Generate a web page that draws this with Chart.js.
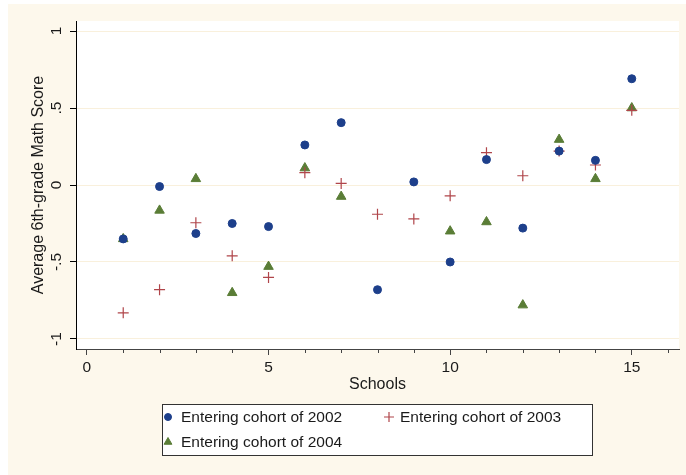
<!DOCTYPE html>
<html>
<head>
<meta charset="utf-8">
<script src="https://cdn.jsdelivr.net/npm/chart.js@4"></script>
<style>
html,body{margin:0;padding:0;background:#fff;}
#wrap{width:686px;height:475px;position:relative;}
</style>
</head>
<body>
<div id="wrap"><canvas id="c" width="686" height="475"></canvas></div>
<script>
// ---- data ----
const schools = [1,2,3,4,5,6,7,8,9,10,11,12,13,14,15];
const cohort2002 = [-0.35,-0.01,-0.315,-0.25,-0.27,0.26,0.405,-0.68,0.02,-0.50,0.165,-0.28,0.22,0.16,0.69];
const cohort2003 = [-0.83,-0.68,-0.245,-0.46,-0.60,0.08,0.01,-0.19,-0.22,-0.07,0.21,0.06,0.22,0.13,0.485];
const cohort2004 = [-0.35,-0.165,0.04,-0.70,-0.53,0.11,-0.075,null,null,-0.30,-0.24,-0.78,0.295,0.04,0.50];
const seriesNames = ["Entering cohort of 2002","Entering cohort of 2003","Entering cohort of 2004"];
const yTickValues = [-1,-0.5,0,0.5,1];
const yTickLabels = ["-1","-.5","0",".5","1"];
const xTickValues = [0,5,10,15];
const xTickLabels = ["0","5","10","15"];
const xMinorTicks = [1,2,3,4,6,7,8,9,11,12,13,14,16];

const FONT = "'Liberation Sans', Arial, sans-serif";
const CREAM = '#fdf8ec';

function pts(arr){ return schools.map((s,i)=>({x:s,y:arr[i]})).filter(p=>p.y!==null); }

const bgPlugin = {
  id:'bg',
  beforeDraw(chart){
    const {ctx, chartArea:a} = chart;
    ctx.save();
    ctx.fillStyle='#ffffff'; ctx.fillRect(0,0,chart.width,chart.height);
    ctx.fillStyle=CREAM; ctx.fillRect(8,4,chart.width-8,chart.height-4);
    ctx.fillStyle='#ffffff'; ctx.fillRect(a.left,a.top,a.right-a.left,a.bottom-a.top);
    ctx.restore();
  }
};

const minorPlugin = {
  id:'minor',
  afterDraw(chart){
    const xs = chart.scales.x, ctx = chart.ctx;
    ctx.save();
    ctx.strokeStyle='#444'; ctx.lineWidth=1;
    xMinorTicks.forEach(v=>{
      const px = Math.round(xs.getPixelForValue(v))+0.5;
      if (px > chart.chartArea.right) return;
      ctx.beginPath(); ctx.moveTo(px, xs.top); ctx.lineTo(px, xs.top+4); ctx.stroke();
    });
    ctx.restore();
  }
};

const legendPlugin = {
  id:'boxlegend',
  afterDraw(chart){
    const ctx = chart.ctx;
    const bx=162, by=404, bw=430, bh=51;
    ctx.save();
    ctx.fillStyle='#ffffff'; ctx.fillRect(bx,by,bw,bh);
    ctx.strokeStyle='#333'; ctx.lineWidth=1; ctx.strokeRect(bx+0.5,by+0.5,bw,bh);
    const pos = [[168,181,417],[389,400,417],[168,181,442]];
    chart.data.datasets.forEach((ds,i)=>{
      const [mx,tx,ty] = pos[i];
      const opts = {pointStyle:ds.pointStyle, radius:ds.legendRadius, rotation:0, borderWidth:ds.borderWidth};
      ctx.fillStyle=ds.backgroundColor; ctx.strokeStyle=ds.borderColor; ctx.lineWidth=ds.borderWidth;
      Chart.helpers.drawPoint(ctx, opts, mx, ty);
      ctx.fillStyle='#1a1a1a'; ctx.font='15.5px '+FONT; ctx.textBaseline='middle'; ctx.textAlign='left';
      ctx.fillText(seriesNames[i], tx, ty+1);
    });
    ctx.restore();
  }
};

new Chart(document.getElementById('c'), {
  type:'scatter',
  data:{datasets:[
    {label:seriesNames[0], data:pts(cohort2002), pointStyle:'circle', radius:4, legendRadius:3.5,
     backgroundColor:'#1d3f8b', borderColor:'#1d3f8b', borderWidth:1},
    {label:seriesNames[1], data:pts(cohort2003), pointStyle:'cross', radius:5.5, legendRadius:5,
     backgroundColor:'#b0454a', borderColor:'#b0454a', borderWidth:1.2},
    {label:seriesNames[2], data:pts(cohort2004), pointStyle:'triangle', radius:5.5, legendRadius:4.5,
     backgroundColor:'#5a7d36', borderColor:'#5a7d36', borderWidth:1}
  ]},
  options:{
    responsive:false, animation:false, events:[],
    layout:{padding:{left:0,top:21,right:7,bottom:0}, autoPadding:false},
    plugins:{legend:{display:false}, tooltip:{enabled:false}},
    scales:{
      x:{
        type:'linear', min:-0.3, max:16.3,
        afterBuildTicks(s){ s.ticks = xTickValues.map(v=>({value:v})); },
        afterFit(s){ s.height = 126; },
        ticks:{ callback:(v)=>xTickLabels[xTickValues.indexOf(v)] ?? '', font:{family:FONT,size:15.5}, color:'#1a1a1a', padding:3, maxRotation:0, minRotation:0 },
        grid:{ drawOnChartArea:false, tickLength:6, tickColor:'#444', tickWidth:1 },
        border:{ display:true, color:'#444', width:1 },
        title:{ display:true, text:'Schools', font:{family:FONT,size:16}, color:'#1a1a1a', padding:{top:0,bottom:81} }
      },
      y:{
        type:'linear', min:-1.065, max:1.065,
        afterBuildTicks(s){ s.ticks = yTickValues.map(v=>({value:v})); },
        afterFit(s){ s.width = 76; },
        ticks:{ callback:(v)=>yTickLabels[yTickValues.indexOf(v)] ?? '', font:{family:FONT,size:15.5}, color:'#1a1a1a',
                padding:4, crossAlign:'center', minRotation:90, maxRotation:90 },
        grid:{ drawOnChartArea:true, color:'#f9f0dc', lineWidth:1, tickLength:6, tickColor:'#000' },
        border:{ display:true, color:'#000', width:1 },
        title:{ display:true, text:'Average 6th-grade Math Score', font:{family:FONT,size:16}, color:'#1a1a1a', padding:{top:29,bottom:0} }
      }
    }
  },
  plugins:[bgPlugin, minorPlugin, legendPlugin]
});
</script>
</body>
</html>
